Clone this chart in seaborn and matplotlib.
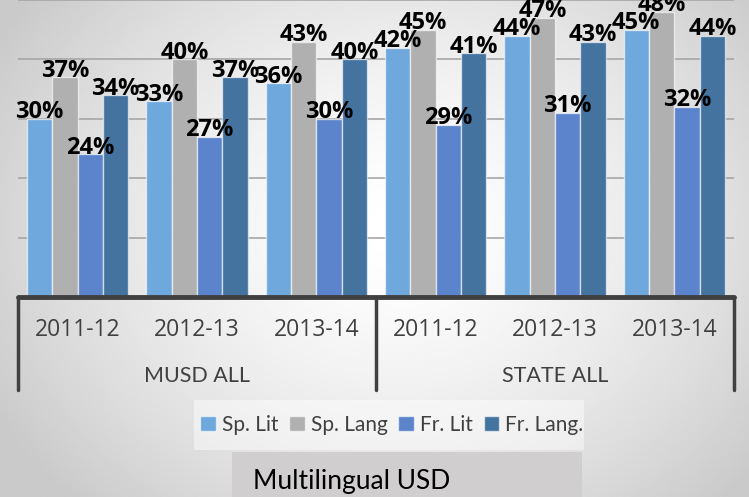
import numpy as np
import pandas as pd
import matplotlib
matplotlib.use("Agg")
import matplotlib.pyplot as plt
import matplotlib.transforms as mtransforms
from matplotlib.patches import Rectangle
import seaborn as sns

# data
groups = ["MUSD ALL", "STATE ALL"]
years = ["2011-12", "2012-13", "2013-14"]
series = ["Sp. Lit", "Sp. Lang", "Fr. Lit", "Fr. Lang."]
sp_lit = [30, 33, 36, 42, 44, 45]
sp_lang = [37, 40, 43, 45, 47, 48]
fr_lit = [24, 27, 30, 29, 31, 32]
fr_lang = [34, 37, 40, 41, 43, 44]
colors = ["#6fa8dc", "#b0b0b0", "#5b84cc", "#44739f"]
title = "Multilingual USD"

cats = [f"{g}|{y}" for g in groups for y in years]
rows = []
for name, vals in zip(series, [sp_lit, sp_lang, fr_lit, fr_lang]):
    for c, v in zip(cats, vals):
        rows.append({"cat": c, "value": v, "series": name})
df = pd.DataFrame(rows)

sns.set_style("white")
plt.rcParams["font.family"] = ["Lato", "DejaVu Sans"]
num_font = ["Open Sans", "DejaVu Sans"]

fig = plt.figure(figsize=(7.49, 4.97), dpi=100)

# radial grey background
bg = fig.add_axes([0, 0, 1, 1], zorder=-10)
xx, yy = np.meshgrid(np.linspace(0, 1, 400), np.linspace(0, 1, 300))
d = np.sqrt(((xx - 0.53) / 0.6) ** 2 + ((yy - 0.46) / 0.75) ** 2)
val = np.clip(1 - 0.2 * d ** 1.5, 0.79, 1)
bg.imshow(val, cmap="gray", vmin=0, vmax=1, aspect="auto", extent=[0, 1, 1, 0])
bg.axis("off")

ax = fig.add_axes([18 / 749, 1 - 297 / 497, 716 / 749, 297 / 497])
ax.patch.set_alpha(0)
sns.barplot(data=df, x="cat", y="value", hue="series", palette=colors,
            saturation=1, width=0.85, edgecolor=(1, 1, 1, 0.6), linewidth=1,
            ax=ax, legend=False, zorder=3)

for c in ax.containers:
    ax.bar_label(c, fmt="{:.0f}%", padding=-4, fontsize=17, fontweight="bold",
                 color="black", family=num_font)

ax.set_ylim(0, 50)
ax.set_xlim(-0.5, 5.5)
ax.set_yticks([10, 20, 30, 40, 50])
ax.yaxis.grid(True, color="#a6a6a6", linewidth=1.2, zorder=0)
ax.set_yticklabels([])
ax.tick_params(axis="y", length=0)
ax.set_xlabel("")
ax.set_ylabel("")
for s in ax.spines.values():
    s.set_visible(False)
ax.axhline(0, color="#404040", linewidth=3.5, zorder=5, clip_on=False)

ax.set_xticks(range(len(cats)))
ax.set_xticklabels(years * len(groups), fontsize=16.5, color="#404040",
                   family=num_font)
ax.tick_params(axis="x", length=0, pad=24)
for lab in ax.get_xticklabels():
    lab.set_va("center")

trans = mtransforms.blended_transform_factory(ax.transData, ax.transAxes)
for i, g in enumerate(groups):
    ax.text(i * 3 + 1, -0.266, g, transform=trans, ha="center", va="center",
            fontsize=15.5, color="#404040")
for xb in [-0.5, 2.5, 5.5]:
    ax.plot([xb, xb], [0, -0.313], transform=trans, color="#404040",
            linewidth=2.5, clip_on=False, zorder=5)

# legend
fig.patches.append(Rectangle((194 / 749, 47 / 497), 390 / 749, 50 / 497,
                             transform=fig.transFigure, facecolor="white",
                             alpha=0.45, edgecolor="none", zorder=-5))
handles = [Rectangle((0, 0), 1, 1, facecolor=c, edgecolor=(1, 1, 1, 0.6))
           for c in colors]
leg = fig.legend(handles, series, loc="center", bbox_to_anchor=(392 / 749, 72 / 497),
                 ncol=4, frameon=False, fontsize=15, handlelength=0.75,
                 handleheight=0.75, handletextpad=0.3, columnspacing=0.5)
for t in leg.get_texts():
    t.set_color("#404040")

# title box
fig.patches.append(Rectangle((232 / 749, 0), 350 / 749, 45 / 497,
                             transform=fig.transFigure, facecolor="#d0cece",
                             edgecolor="none", zorder=-5))
fig.text(253 / 749, 16 / 497, title, ha="left", va="center", fontsize=19,
         color="black")

fig.savefig("out.png", dpi=100)
